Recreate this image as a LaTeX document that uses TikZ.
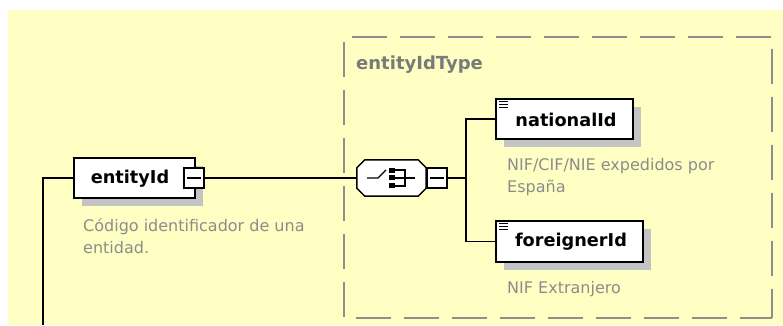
\documentclass[tikz,border=0pt]{standalone}
\usepackage{fontspec}
\setmainfont{DejaVu Sans}
\usetikzlibrary{shadows}
\definecolor{bgyellow}{HTML}{FFFFC4}
\definecolor{shadowgray}{HTML}{C4C4C4}
\definecolor{descgray}{HTML}{8C8C8C}
\definecolor{titlegray}{HTML}{7A7A7A}
\definecolor{dashgray}{HTML}{8E8E8E}
\begin{document}
\begin{tikzpicture}[x=1pt,y=-1pt,
  conn/.style={draw=black,line width=1.5pt},
  boxshadow/.style={drop shadow={shadow xshift=8pt,shadow yshift=-8pt,fill=shadowgray,opacity=1}},
  elembox/.style={draw=black,line width=1.5pt,fill=white,inner sep=0pt,minimum height=40pt,boxshadow},
  iconbox/.style={elembox,path picture={
     \foreach \dy in {2.5,5.5,8.5}{\draw[line width=0.9pt,black] ([shift={(3pt,-\dy pt)}]path picture bounding box.north west) -- ++(9pt,0);}}},
  elemlabel/.style={font=\bfseries\fontsize{17.7}{20}\selectfont,text=black,inner sep=0pt},
  minusbox/.style={draw=black,line width=1.2pt,fill=white,minimum width=20pt,minimum height=20pt,inner sep=0pt,
     path picture={\draw[line width=1.2pt,black] ([xshift=3pt]path picture bounding box.west) -- ([xshift=-3pt]path picture bounding box.east);}},
  seqarea/.style={rectangle,minimum width=69pt,minimum height=36pt,inner sep=0pt},
  octo/.style={line width=1.5pt,line join=miter},
  icon/.style={black,line width=1.2pt},
  desc/.style={font=\fontsize{16}{22}\selectfont,text=descgray,align=left,anchor=north west,inner sep=0pt},
  dashedge/.style={draw=dashgray,line width=1.6pt,dash pattern=on 35pt off 13pt}
]
\useasboundingbox (0,0) rectangle (783,325);
\fill[bgyellow] (8,10) rectangle (783,325);

% type group dashed frame
\draw[dashedge] (352,37) -- (772,37) -- (772,318);
\draw[dashedge] (356,318) -- (772,318);
\draw[dashedge] (344,42) -- (344,318);
\node[font=\bfseries\fontsize{18}{20}\selectfont,text=titlegray,anchor=west,inner sep=0pt] (typetitle) at (356,65) {entityIdType};

% entityId element
\node[elembox,minimum width=121pt] (eid) at (134.5,178) {};
\node[elemlabel] (eidtext) at (130,178.5) {entityId};
\node[minusbox] (m1) at (194,178) {};
\node[desc] (eiddesc) at (83,218) {Código identificador de una\\entidad.};

% sequence compositor
\node[seqarea] (seq) at (391.5,178) {};
\fill[shadowgray,shift={(8,8)}] ([xshift=8]seq.north west) -- ([xshift=-8]seq.north east) -- ([yshift=-8]seq.north east) -- ([yshift=8]seq.south east) -- ([xshift=-8]seq.south east) -- ([xshift=8]seq.south west) -- ([yshift=8]seq.south west) -- ([yshift=-8]seq.north west) -- cycle;
\draw[octo,fill=white] ([xshift=8]seq.north west) -- ([xshift=-8]seq.north east) -- ([yshift=-8]seq.north east) -- ([yshift=8]seq.south east) -- ([xshift=-8]seq.south east) -- ([xshift=8]seq.south west) -- ([yshift=8]seq.south west) -- ([yshift=-8]seq.north west) -- cycle;
\draw[icon] ([shift={(-24.5,0)}]seq.center) -- ([shift={(-13.5,0)}]seq.center) -- ([shift={(-5.5,-8)}]seq.center);
\foreach \yy in {-10,-3,5}{
  \fill[black] ([shift={(-2.5,\yy)}]seq.center) rectangle ([shift={(3.5,\yy+5)}]seq.center);}
\draw[icon] ([shift={(3.5,-8)}]seq.center) -- ([shift={(13.5,-8)}]seq.center) -- ([shift={(13.5,8)}]seq.center) -- ([shift={(3.5,8)}]seq.center);
\draw[icon] ([shift={(3.5,0)}]seq.center) -- ([shift={(23.5,0)}]seq.center);
\node[minusbox] (m2) at (437,178) {};

% child elements
\node[iconbox,minimum width=137pt] (nat) at (564.5,119) {};
\node[elemlabel] (nattext) at (566,120) {nationalId};
\node[desc] (natdesc) at (507,158) {NIF/CIF/NIE expedidos por\\España};

\node[iconbox,minimum width=147pt,minimum height=41pt] (for) at (569.5,241.5) {};
\node[elemlabel] (fortext) at (571,242) {foreignerId};
\node[desc] (fordesc) at (507,281) {NIF Extranjero};

% connectors
\coordinate (lbot) at (43,325);
\coordinate (fork) at (466,178);
\draw[conn] (eid.west) -| (lbot);
\draw[conn] (m1.east) -- (seq.west);
\draw[conn] (m2.east) -- (fork);
\draw[conn] (fork) |- (nat.west);
\draw[conn] (fork) |- (for.west);
\end{tikzpicture}
\end{document}
